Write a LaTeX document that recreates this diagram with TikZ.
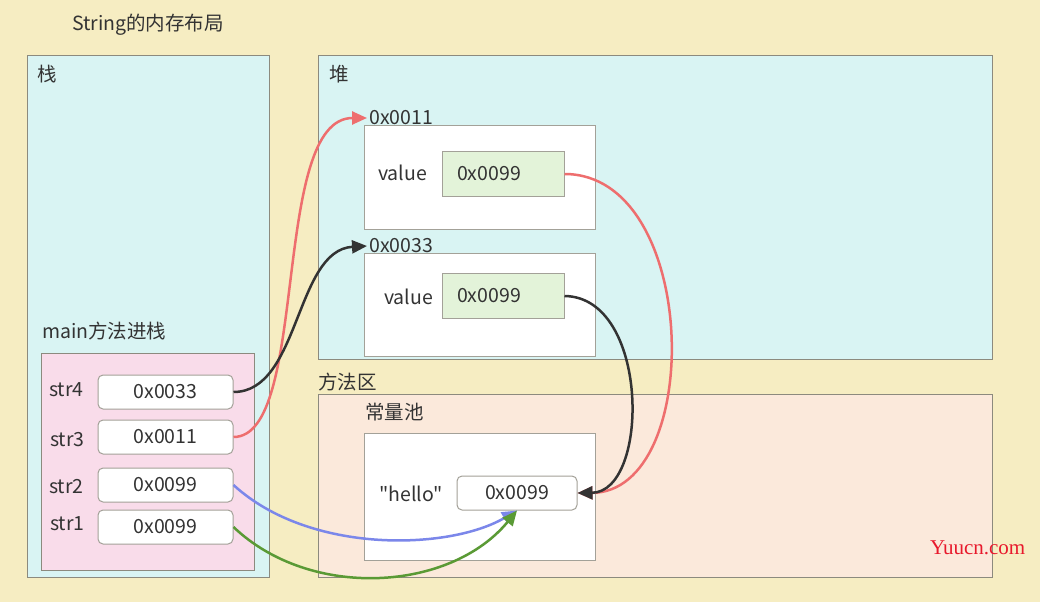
\documentclass[tikz,border=0pt]{standalone}
\usepackage{fontspec}
\newfontfamily\cnfont{Noto Sans CJK SC}
\newfontfamily\markfont{Liberation Serif}
\usetikzlibrary{arrows.meta}
\definecolor{paper}{HTML}{F6EDC2}
\definecolor{cyanbg}{HTML}{D9F4F3}
\definecolor{pinkbg}{HTML}{F9DCEA}
\definecolor{peachbg}{HTML}{FBE9DB}
\definecolor{greenbg}{HTML}{E3F3D9}
\definecolor{edge}{HTML}{8C8A7E}
\definecolor{txt}{HTML}{333333}
\definecolor{redline}{HTML}{EE6E6E}
\definecolor{blueline}{HTML}{7B87EA}
\definecolor{greenline}{HTML}{5A9A35}
\definecolor{markred}{HTML}{E8192C}

\begin{document}
\begin{tikzpicture}[x=1pt, y=-1pt, text=txt,
  font=\cnfont\fontsize{19.5}{22}\selectfont,
  area/.style = {draw=edge, line width=1pt, inner sep=0pt, anchor=north west},
  objbox/.style = {area, draw=edge!80, fill=white},
  ptrbox/.style = {draw=edge!80, fill=white, rounded corners=5pt, line width=1pt,
    minimum width=135, minimum height=34, inner sep=0pt},
  valbox/.style = {draw=edge!80, fill=greenbg, line width=1pt, minimum height=45,
    inner xsep=15pt, inner ysep=0pt, text width=92, align=left},
  lbl/.style = {inner sep=2pt, anchor=west},
  link/.style = {line width=2.5pt, -{Triangle[length=15pt, width=13pt]}}]
  \fill[paper] (0,0) rectangle (1040,602);
  \node[lbl] (title) at (70,25) {String的内存布局};

  \node[area, fill=cyanbg, minimum width=242, minimum height=522] (stack) at (27,55) {};
  \node[lbl] (stacklbl) at (35,74) {栈};
  \node[lbl] (mainlbl) at (40,331) {main方法进栈};
  \node[area, fill=pinkbg, minimum width=213, minimum height=217] (frame) at (41,353) {};
  \node[ptrbox] (p4) at (165.5,392) {0x0033};
  \node[ptrbox] (p3) at (165.5,437) {0x0011};
  \node[ptrbox] (p2) at (165.5,485) {0x0099};
  \node[ptrbox] (p1) at (165.5,527) {0x0099};
  \node[lbl] (n4) at (47,390) {str4};
  \node[lbl] (n3) at (48,440) {str3};
  \node[lbl] (n2) at (47,487) {str2};
  \node[lbl] (n1) at (48,524) {str1};

  \node[area, fill=cyanbg, minimum width=674, minimum height=304] (heap) at (318,55) {};
  \node[lbl] (heaplbl) at (327,74) {堆};
  \node[objbox, minimum width=231, minimum height=104] (obj1) at (364,125) {};
  \node[lbl] (addr1) at (367,118) {0x0011};
  \node[lbl] (v1) at (376,173) {value};
  \node[valbox] (val1) at (503,174) {0x0099};
  \node[objbox, minimum width=231, minimum height=103] (obj2) at (364,253) {};
  \node[lbl] (addr2) at (367,246) {0x0033};
  \node[lbl] (v2) at (382,297) {value};
  \node[valbox] (val2) at (503,296) {0x0099};

  \node[lbl] (methodlbl) at (316,382) {方法区};
  \node[area, fill=peachbg, minimum width=674, minimum height=183] (method) at (318,394) {};
  \node[lbl] (poollbl) at (363,412) {常量池};
  \node[objbox, minimum width=231, minimum height=127] (pool) at (364,433) {};
  \node[lbl] (hellolbl) at (377,494) {"hello"};
  \node[ptrbox, minimum width=120] (hello) at (517,493) {0x0099};

  \node[lbl, font=\markfont\fontsize{21}{24}\selectfont, text=markred] (mark) at (928,548) {Yuucn.com};

  \draw[link, redline] (p3.east) .. controls (310,437) and (270,118) .. (addr1.west);
  \draw[link, txt] (p4.east) .. controls (300,392) and (295,250) .. (addr2.west);
  \draw[link, redline] (val1.east) .. controls (700,174) and (705,492) .. (hello.east);
  \draw[link, txt] (val2.east) .. controls (650,297) and (650,492) .. (hello.east);
  \draw[link, blueline] (p2.east) .. controls (310,555) and (450,550) .. (hello.south);
  \draw[link, greenline] (p1.east) .. controls (310,600) and (450,592) .. (hello.south);
\end{tikzpicture}
\end{document}
